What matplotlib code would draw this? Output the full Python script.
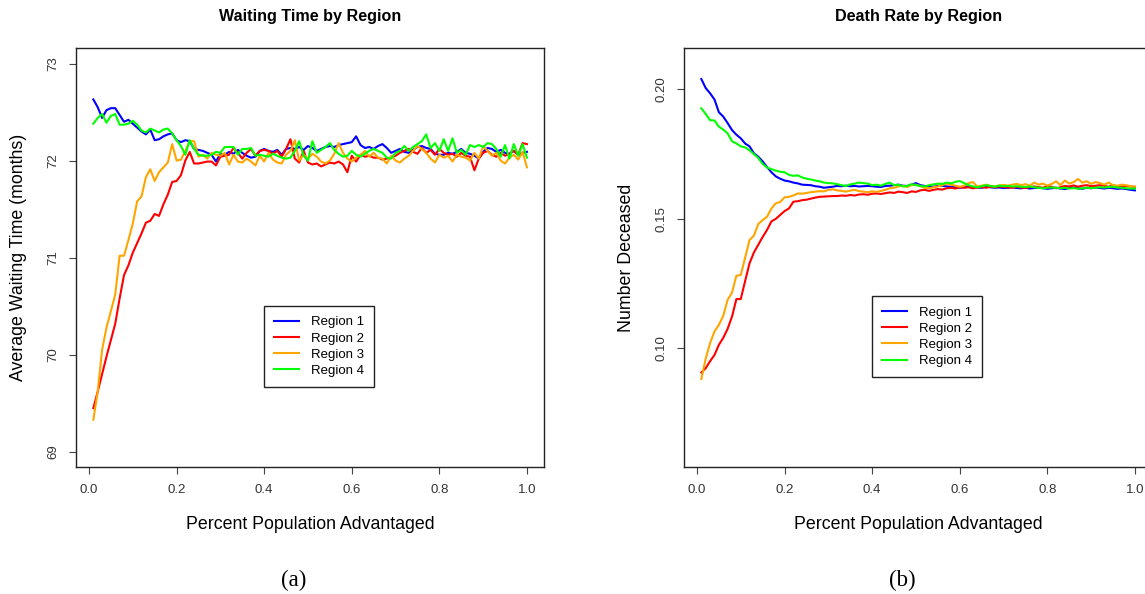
import numpy as np
import matplotlib
matplotlib.use("Agg")
from matplotlib import pyplot as plt

# x values: share of population advantaged, 0.01 .. 1.00
pct = [round(0.01 * i, 2) for i in range(1, 101)]

regions = ["Region 1", "Region 2", "Region 3", "Region 4"]
colors = ["#0000FF", "#FF0000", "#FFA500", "#00FF00"]

# (a) average waiting time (months)
wait_r1 = [72.63, 72.55, 72.44, 72.52, 72.54, 72.54, 72.47, 72.40, 72.42, 72.38,
           72.34, 72.30, 72.27, 72.32, 72.21, 72.22, 72.25, 72.27, 72.28, 72.21,
           72.19, 72.21, 72.20, 72.12, 72.11, 72.10, 72.08, 72.06, 71.99, 72.07,
           72.06, 72.09, 72.07, 72.11, 72.08, 72.05, 72.03, 72.04, 72.10, 72.12,
           72.10, 72.09, 72.11, 72.06, 72.12, 72.13, 72.12, 72.14, 72.11, 72.15,
           72.13, 72.10, 72.12, 72.14, 72.15, 72.14, 72.16, 72.17, 72.18, 72.19,
           72.25, 72.16, 72.13, 72.14, 72.12, 72.15, 72.17, 72.13, 72.08, 72.10,
           72.12, 72.09, 72.08, 72.11, 72.14, 72.15, 72.13, 72.12, 72.07, 72.06,
           72.06, 72.08, 72.07, 72.09, 72.12, 72.08, 72.07, 72.05, 72.02, 72.09,
           72.13, 72.12, 72.09, 72.11, 72.08, 72.07, 72.10, 72.06, 72.08, 72.09]
wait_r2 = [69.45, 69.62, 69.80, 69.98, 70.15, 70.32, 70.58, 70.82, 70.92, 71.05,
           71.15, 71.25, 71.36, 71.38, 71.45, 71.43, 71.55, 71.65, 71.78, 71.79,
           71.85, 72.00, 72.09, 71.97, 71.97, 71.98, 71.99, 71.99, 71.95, 72.04,
           72.05, 72.06, 72.13, 72.08, 72.02, 72.08, 72.12, 72.05, 72.10, 72.11,
           72.10, 72.07, 72.10, 72.04, 72.12, 72.22, 72.02, 71.98, 72.10, 71.98,
           71.96, 71.97, 71.94, 71.96, 71.98, 71.97, 71.99, 71.96, 71.88, 72.05,
           71.99, 72.06, 72.04, 72.05, 72.03, 72.03, 72.01, 72.02, 72.03, 72.05,
           72.08, 72.10, 72.12, 72.09, 72.07, 72.13, 72.08, 72.11, 72.06, 72.12,
           72.08, 72.06, 72.07, 72.04, 72.08, 72.05, 72.04, 71.90, 72.02, 72.08,
           72.10, 72.06, 72.04, 72.08, 72.05, 72.07, 72.10, 72.06, 72.18, 72.17]
wait_r3 = [69.33, 69.62, 70.05, 70.28, 70.45, 70.62, 71.02, 71.02, 71.18, 71.35,
           71.58, 71.63, 71.83, 71.91, 71.79, 71.88, 71.93, 71.98, 72.17, 72.00,
           72.01, 72.10, 72.20, 72.20, 72.04, 72.06, 72.02, 72.08, 72.06, 72.05,
           72.08, 71.96, 72.06, 71.99, 71.98, 72.02, 71.99, 71.95, 72.05, 71.99,
           72.08, 72.01, 71.98, 71.97, 72.06, 72.10, 72.21, 72.00, 72.06, 72.02,
           72.07, 72.04, 71.99, 71.97, 72.00, 72.07, 72.18, 72.08, 72.02, 71.99,
           72.03, 72.06, 72.10, 72.04, 72.08, 72.03, 72.02, 71.97, 72.05, 72.00,
           71.98, 72.02, 72.05, 72.10, 72.15, 72.12, 72.08, 72.02, 71.98, 72.06,
           72.03, 72.05, 71.99, 72.06, 72.04, 72.03, 72.00, 72.08, 72.02, 72.15,
           72.10, 72.05, 72.08, 72.00, 71.97, 72.03, 72.06, 72.01, 72.09, 71.93]
wait_r4 = [72.38, 72.44, 72.48, 72.39, 72.46, 72.48, 72.37, 72.37, 72.38, 72.41,
           72.37, 72.31, 72.29, 72.33, 72.31, 72.29, 72.32, 72.33, 72.28, 72.21,
           72.15, 72.06, 72.21, 72.12, 72.06, 72.05, 72.05, 72.06, 72.09, 72.08,
           72.14, 72.14, 72.14, 72.06, 72.12, 72.12, 72.13, 72.05, 72.06, 72.05,
           72.04, 72.07, 72.05, 72.03, 72.02, 72.03, 72.10, 72.20, 72.05, 72.00,
           72.20, 72.08, 72.11, 72.14, 72.18, 72.11, 72.07, 72.04, 72.05, 72.10,
           72.06, 72.04, 72.07, 72.10, 72.12, 72.10, 72.08, 72.03, 72.02, 72.08,
           72.10, 72.15, 72.10, 72.14, 72.17, 72.20, 72.27, 72.13, 72.18, 72.10,
           72.22, 72.10, 72.23, 72.08, 72.11, 72.06, 72.16, 72.14, 72.16, 72.14,
           72.18, 72.17, 72.12, 72.04, 72.16, 72.02, 72.17, 72.05, 72.17, 72.03]

# (b) share deceased
dead_r1 = [0.2040, 0.2005, 0.1985, 0.1961, 0.1912, 0.1895, 0.1870, 0.1843, 0.1825, 0.1811,
           0.1791, 0.1780, 0.1753, 0.1740, 0.1722, 0.1700, 0.1680, 0.1664, 0.1655, 0.1648,
           0.1645, 0.1640, 0.1637, 0.1632, 0.1631, 0.1630, 0.1626, 0.1624, 0.1620, 0.1622,
           0.1624, 0.1627, 0.1626, 0.1628, 0.1626, 0.1627, 0.1625, 0.1626, 0.1627, 0.1626,
           0.1624, 0.1623, 0.1627, 0.1628, 0.1630, 0.1632, 0.1628, 0.1627, 0.1632, 0.1638,
           0.1630, 0.1627, 0.1625, 0.1624, 0.1627, 0.1628, 0.1625, 0.1624, 0.1622, 0.1620,
           0.1622, 0.1625, 0.1623, 0.1621, 0.1620, 0.1624, 0.1622, 0.1620, 0.1621, 0.1619,
           0.1620, 0.1622, 0.1619, 0.1618, 0.1620, 0.1617, 0.1619, 0.1621, 0.1618, 0.1616,
           0.1618, 0.1620, 0.1617, 0.1615, 0.1619, 0.1621, 0.1618, 0.1616, 0.1620, 0.1618,
           0.1621, 0.1619, 0.1617, 0.1620, 0.1618, 0.1616, 0.1617, 0.1615, 0.1612, 0.1610]
dead_r2 = [0.0906, 0.0923, 0.0950, 0.0974, 0.1013, 0.1040, 0.1075, 0.1122, 0.1190, 0.1190,
           0.1260, 0.1328, 0.1370, 0.1400, 0.1430, 0.1457, 0.1490, 0.1500, 0.1515, 0.1530,
           0.1540, 0.1566, 0.1568, 0.1572, 0.1574, 0.1578, 0.1582, 0.1585, 0.1586, 0.1587,
           0.1588, 0.1588, 0.1590, 0.1589, 0.1592, 0.1590, 0.1594, 0.1595, 0.1593, 0.1597,
           0.1598, 0.1596, 0.1599, 0.1602, 0.1600, 0.1605, 0.1603, 0.1600, 0.1606, 0.1604,
           0.1610, 0.1612, 0.1608, 0.1612, 0.1615, 0.1613, 0.1618, 0.1620, 0.1617, 0.1622,
           0.1620, 0.1622, 0.1618, 0.1621, 0.1623, 0.1620, 0.1624, 0.1622, 0.1625, 0.1623,
           0.1622, 0.1620, 0.1624, 0.1621, 0.1619, 0.1623, 0.1625, 0.1622, 0.1620, 0.1626,
           0.1624, 0.1618, 0.1622, 0.1627, 0.1625, 0.1629, 0.1624, 0.1628, 0.1630, 0.1626,
           0.1628, 0.1630, 0.1627, 0.1624, 0.1629, 0.1626, 0.1624, 0.1627, 0.1625, 0.1623]
dead_r3 = [0.0881, 0.0960, 0.1020, 0.1065, 0.1090, 0.1125, 0.1187, 0.1215, 0.1280, 0.1283,
           0.1350, 0.1418, 0.1435, 0.1480, 0.1495, 0.1508, 0.1540, 0.1560, 0.1565, 0.1583,
           0.1585, 0.1590, 0.1598, 0.1597, 0.1600, 0.1603, 0.1605, 0.1607, 0.1606, 0.1612,
           0.1614, 0.1610, 0.1608, 0.1605, 0.1609, 0.1612, 0.1607, 0.1605, 0.1603, 0.1606,
           0.1604, 0.1608, 0.1612, 0.1618, 0.1620, 0.1625, 0.1628, 0.1623, 0.1630, 0.1632,
           0.1626, 0.1620, 0.1618, 0.1622, 0.1625, 0.1630, 0.1636, 0.1632, 0.1628, 0.1624,
           0.1628, 0.1638, 0.1642, 0.1625, 0.1628, 0.1632, 0.1627, 0.1625, 0.1629, 0.1631,
           0.1628, 0.1632, 0.1635, 0.1630, 0.1634, 0.1628, 0.1640, 0.1632, 0.1636, 0.1628,
           0.1635, 0.1645, 0.1630, 0.1648, 0.1636, 0.1642, 0.1654, 0.1640, 0.1645, 0.1635,
           0.1642, 0.1638, 0.1632, 0.1640, 0.1630, 0.1628, 0.1632, 0.1630, 0.1626, 0.1625]
dead_r4 = [0.1927, 0.1905, 0.1881, 0.1880, 0.1856, 0.1845, 0.1830, 0.1800, 0.1791, 0.1780,
           0.1776, 0.1765, 0.1750, 0.1735, 0.1712, 0.1698, 0.1692, 0.1686, 0.1682, 0.1680,
           0.1670, 0.1666, 0.1668, 0.1660, 0.1655, 0.1652, 0.1648, 0.1645, 0.1640, 0.1638,
           0.1637, 0.1634, 0.1630, 0.1627, 0.1633, 0.1636, 0.1640, 0.1638, 0.1636, 0.1630,
           0.1632, 0.1628, 0.1635, 0.1640, 0.1630, 0.1632, 0.1625, 0.1627, 0.1634, 0.1630,
           0.1627, 0.1625, 0.1630, 0.1633, 0.1636, 0.1635, 0.1640, 0.1637, 0.1643, 0.1646,
           0.1638, 0.1630, 0.1625, 0.1622, 0.1626, 0.1630, 0.1627, 0.1624, 0.1628, 0.1626,
           0.1627, 0.1625, 0.1626, 0.1624, 0.1623, 0.1625, 0.1622, 0.1620, 0.1618, 0.1620,
           0.1621, 0.1620, 0.1618, 0.1620, 0.1617, 0.1619, 0.1616, 0.1618, 0.1620, 0.1619,
           0.1620, 0.1622, 0.1621, 0.1623, 0.1624, 0.1621, 0.1620, 0.1618, 0.1617, 0.1617]

wait_ticks = [69, 70, 71, 72, 73]
dead_ticks = [0.10, 0.15, 0.20]
x_ticks = [0.0, 0.2, 0.4, 0.6, 0.8, 1.0]

plt.rcParams["font.family"] = ["Liberation Sans", "DejaVu Sans"]

W, H = 1145, 594
fig = plt.figure(figsize=(W / 100, H / 100), dpi=100)


def r_range(lo, hi):
    # R pads axis ranges by 4% on each side
    pad = 0.04 * (hi - lo)
    return lo - pad, hi + pad


def r_panel(rect, series, ylim, yticks, ytick_fmt, title, ylabel, leg_xy):
    ax = fig.add_axes(rect)
    for s, c, lab in zip(series, colors, regions):
        ax.plot(pct, s, color=c, lw=1.5, label=lab)
    ax.set_xlim(*r_range(min(pct), max(pct)))
    ax.set_ylim(*r_range(*ylim))
    ax.set_xticks(x_ticks)
    ax.set_xticklabels(["%.1f" % t for t in x_ticks])
    ax.set_yticks(yticks)
    ax.set_yticklabels([ytick_fmt % t for t in yticks], rotation=90, va="center")
    ax.tick_params(direction="out", length=5, width=0.8, color="#444444",
                   labelsize=9.5, labelcolor="#333333")
    ax.tick_params(axis="x", pad=7)
    ax.tick_params(axis="y", pad=7)
    for sp in ax.spines.values():
        sp.set_color("#222222")
        sp.set_linewidth(1.0)
    ax.text(0.5, 1.0 + 32 / 419.3, title, transform=ax.transAxes, ha="center",
            va="center", fontsize=11.6, fontweight="bold")
    ax.text(0.5, -0.1376, "Percent Population Advantaged", transform=ax.transAxes,
            ha="center", va="center", fontsize=12.8)
    ax.text(-0.122, 0.5, ylabel, transform=ax.transAxes, ha="center",
            va="center", rotation=90, fontsize=12.8)
    leg = ax.legend(loc="upper left", bbox_to_anchor=leg_xy,
                    bbox_transform=ax.transData, borderaxespad=0,
                    fontsize=9.5, handlelength=1.9, handletextpad=0.9,
                    labelspacing=0.3, borderpad=0.75, fancybox=False,
                    framealpha=1, edgecolor="#222222")
    leg.get_frame().set_linewidth(1.0)
    return ax


r_panel([76 / W, 1 - 467.3 / H, 468.3 / W, 419.3 / H],
        [wait_r1, wait_r2, wait_r3, wait_r4], (69, 73), wait_ticks, "%d",
        "Waiting Time by Region", "Average Waiting Time (months)", (0.4, 70.5))
r_panel([684 / W, 1 - 467.3 / H, 468.3 / W, 419.3 / H],
        [dead_r1, dead_r2, dead_r3, dead_r4], (0.06, 0.21), dead_ticks, "%.2f",
        "Death Rate by Region", "Number Deceased", (0.4, 0.12))

fig.text(294 / W, 1 - 580 / H, "(a)", ha="center", va="center", fontsize=16.5,
         family=["Liberation Serif", "DejaVu Serif"])
fig.text(902 / W, 1 - 580 / H, "(b)", ha="center", va="center", fontsize=16.5,
         family=["Liberation Serif", "DejaVu Serif"])

fig.savefig("out.png", dpi=100)
